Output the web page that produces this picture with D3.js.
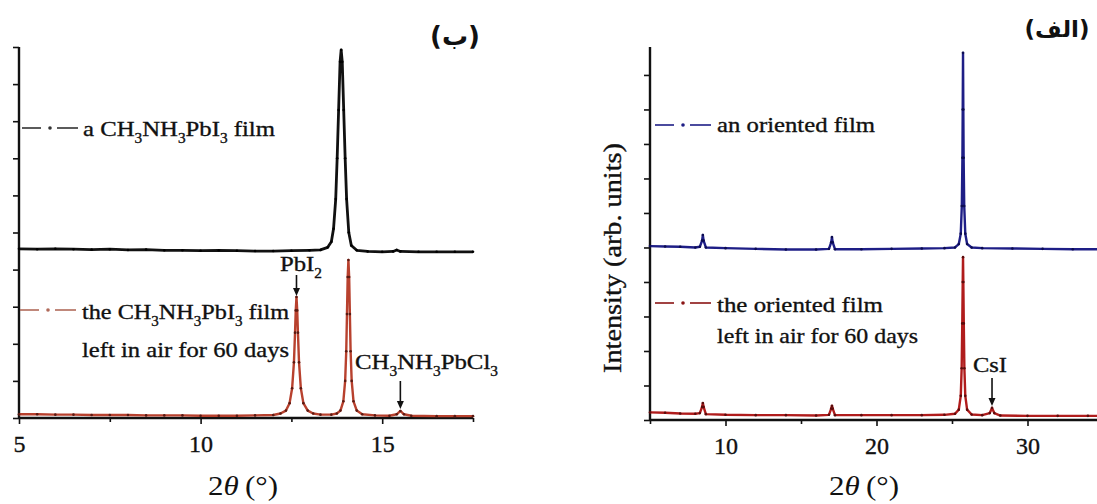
<!DOCTYPE html>
<html>
<head>
<meta charset="utf-8">
<script src="https://cdn.jsdelivr.net/npm/d3@7"></script>
<style>
  html, body { margin: 0; padding: 0; background: #fff; }
  svg { display: block; }
  text { font-family: "Liberation Serif", "Times New Roman", serif; fill: #111; }
  text.lbl { stroke: #111; stroke-width: 0.35px; }
</style>
</head>
<body>
<svg id="fig" width="1097" height="504"></svg>
<script>
// ---- Panel (ب): CH3NH3PbI3 film, fresh vs. 60 days in air ----
const freshFilm = [
  [5.0,4.56],[5.5,4.55],[6.0,4.56],[6.5,4.55],[7.0,4.54],[7.5,4.55],[8.0,4.53],[8.5,4.54],
  [9.0,4.52],[9.5,4.52],[10.0,4.51],[10.5,4.52],[11.0,4.51],[11.5,4.50],[12.0,4.50],[12.5,4.51],
  [13.0,4.52],[13.3,4.53],[13.5,4.60],[13.6,4.75],[13.66,5.1],[13.72,5.9],[13.76,7.0],[13.8,8.3],
  [13.84,9.6],[13.87,9.92],[13.9,9.6],[13.94,8.3],[13.98,7.0],[14.02,5.9],[14.08,5.0],[14.15,4.65],
  [14.3,4.52],[14.6,4.49],[15.0,4.48],[15.3,4.49],[15.4,4.53],[15.5,4.49],[16.0,4.48],[16.5,4.48],
  [17.0,4.48],[17.5,4.48]
];
const agedFilm = [
  [5.0,0.10],[5.5,0.10],[6.0,0.09],[6.5,0.09],[7.0,0.08],[7.5,0.08],[8.0,0.08],[8.5,0.07],
  [9.0,0.07],[9.5,0.07],[10.0,0.06],[10.5,0.06],[11.0,0.06],[11.5,0.07],[12.0,0.08],[12.2,0.12],
  [12.35,0.2],[12.45,0.4],[12.52,0.8],[12.57,1.5],[12.6,2.3],[12.62,2.9],[12.64,3.26],[12.66,2.9],
  [12.68,2.3],[12.71,1.5],[12.76,0.8],[12.83,0.4],[12.95,0.2],[13.1,0.12],[13.3,0.09],[13.6,0.09],
  [13.75,0.12],[13.85,0.2],[13.93,0.45],[13.98,1.0],[14.01,1.8],[14.03,2.8],[14.05,3.8],[14.07,4.26],
  [14.09,3.8],[14.11,2.8],[14.13,1.8],[14.16,1.0],[14.21,0.45],[14.3,0.2],[14.45,0.1],[14.8,0.07],
  [15.2,0.06],[15.4,0.1],[15.5,0.19],[15.6,0.1],[15.8,0.06],[16.5,0.05],[17.0,0.05],[17.5,0.05]
];
const leftXTicks = [5, 10, 15];
const leftXMinor = [7.5, 12.5, 17.5];
const leftYTicks = [0,1,2,3,4,5,6,7,8,9,10];

// ---- Panel (الف): oriented film, fresh vs. 60 days in air ----
const orientedFilm = [
  [5.0,5.04],[6.0,5.03],[7.0,5.02],[8.0,5.0],[8.3,5.02],[8.45,5.2],[8.5,5.36],[8.55,5.2],[8.7,5.0],
  [10.0,4.98],[12.0,4.96],[14.0,4.94],[16.0,4.94],[16.85,4.96],[17.0,5.15],[17.05,5.3],[17.1,5.15],
  [17.25,4.95],[19.0,4.95],[21.0,4.96],[23.0,4.97],[24.5,4.98],[25.2,5.0],[25.45,5.1],[25.58,5.4],
  [25.65,6.2],[25.69,7.6],[25.71,9.0],[25.73,10.64],[25.75,9.0],[25.77,7.6],[25.81,6.2],[25.88,5.4],
  [26.0,5.1],[26.3,5.0],[27.0,4.98],[29.0,4.97],[31.0,4.96],[33.0,4.95],[35.0,4.95]
];
const orientedAged = [
  [5.0,0.22],[6.0,0.21],[7.0,0.19],[8.0,0.18],[8.3,0.2],[8.45,0.38],[8.5,0.49],[8.55,0.38],[8.7,0.17],
  [10.0,0.15],[12.0,0.14],[14.0,0.14],[16.0,0.13],[16.85,0.15],[17.0,0.33],[17.05,0.41],[17.1,0.33],
  [17.25,0.14],[19.0,0.14],[21.0,0.14],[23.0,0.14],[24.5,0.15],[25.2,0.18],[25.45,0.3],[25.58,0.7],
  [25.64,1.5],[25.68,2.8],[25.71,4.0],[25.73,4.72],[25.75,4.0],[25.78,2.8],[25.82,1.5],[25.88,0.7],
  [26.0,0.3],[26.3,0.16],[27.0,0.14],[27.5,0.2],[27.65,0.35],[27.8,0.2],[28.2,0.13],[30.0,0.12],
  [32.0,0.12],[34.0,0.12],[35.0,0.12]
];
const rightXTicks = [10, 20, 30];
const rightXMinor = [5, 15, 25, 35];
const rightYTicks = [0,1,2,3,4,5,6,7,8,9,10];

const svg = d3.select("#fig");
const LABEL = 22;
const SERIF = '"Liberation Serif", "Times New Roman", serif';

// label with chemical subscripts: parts are [text, isSubscript]; width fixes the drawn length
function chemText(g, x, y, parts, size, width) {
  const t = g.append("text").attr("class", "lbl").attr("x", x).attr("y", y).attr("font-size", size);
  const shift = size * 0.3;
  let offset = 0;
  parts.forEach(([s, sub]) => {
    const target = sub ? shift : 0;
    t.append("tspan")
      .attr("font-size", sub ? size * 0.62 : size)
      .attr("dy", target - offset)
      .text(s);
    offset = target;
  });
  if (width) t.attr("textLength", width).attr("lengthAdjust", "spacingAndGlyphs");
  return t;
}

function legendSymbol(g, x, y, color) {
  g.append("line").attr("x1", x).attr("x2", x + 19).attr("y1", y).attr("y2", y)
    .attr("stroke", color).attr("stroke-width", 1.6);
  g.append("circle").attr("cx", x + 28).attr("cy", y).attr("r", 1.8).attr("fill", color);
  g.append("line").attr("x1", x + 35).attr("x2", x + 56).attr("y1", y).attr("y2", y)
    .attr("stroke", color).attr("stroke-width", 1.6);
}

function arrow(g, x, y1, y2) {
  g.append("line").attr("x1", x).attr("x2", x).attr("y1", y1).attr("y2", y2 - 6)
    .attr("stroke", "#111").attr("stroke-width", 1.6);
  g.append("path")
    .attr("d", `M${x - 3.5},${y2 - 8} L${x + 3.5},${y2 - 8} L${x},${y2} Z`)
    .attr("fill", "#111");
}

function drawSeries(g, data, x, y, color, dotColor, width) {
  const line = d3.line().x(d => x(d[0])).y(d => y(d[1]));
  g.append("path").datum(data).attr("d", line)
    .attr("fill", "none").attr("stroke", color).attr("stroke-width", width)
    .attr("stroke-linejoin", "round");
  g.selectAll(null).data(data).enter().append("circle")
    .attr("cx", d => x(d[0])).attr("cy", d => y(d[1])).attr("r", 1.3)
    .attr("fill", dotColor);
}

function drawAxes(g, x, y, xTicks, xMinor, yTicks, fontSize) {
  const [y0] = y.range();
  const [x0] = x.range();
  const xAxis = d3.axisBottom(x).tickValues(xTicks).tickSize(6).tickPadding(11)
    .tickFormat(d3.format("d"));
  const xa = g.append("g").attr("transform", `translate(0,${y0})`).call(xAxis);
  xa.attr("font-family", null).attr("font-size", null);
  xa.select(".domain").remove();
  xa.selectAll(".tick line").attr("stroke", "#111").attr("stroke-width", 1.6);
  xa.selectAll(".tick text").attr("class", "lbl").attr("fill", "#111")
    .style("font-family", SERIF).style("font-size", fontSize + "px");
  const xm = g.append("g").attr("transform", `translate(0,${y0})`)
    .call(d3.axisBottom(x).tickValues(xMinor).tickSize(4).tickFormat(""));
  xm.select(".domain").remove();
  xm.selectAll(".tick line").attr("stroke", "#111").attr("stroke-width", 1.6);

  const ya = g.append("g").attr("transform", `translate(${x0},0)`)
    .call(d3.axisLeft(y).tickValues(yTicks).tickSize(6).tickFormat(""));
  ya.select(".domain").remove();
  ya.selectAll(".tick line").attr("stroke", "#111").attr("stroke-width", 1.6);

  // axis frame lines (bottom and left)
  g.append("line").attr("x1", x0).attr("x2", x.range()[1]).attr("y1", y0).attr("y2", y0)
    .attr("stroke", "#111").attr("stroke-width", 2.4);
  g.append("line").attr("x1", x0).attr("x2", x0).attr("y1", y0).attr("y2", y.range()[1])
    .attr("stroke", "#111").attr("stroke-width", 2.4);
}

function axisTitle(g, cx, y) {
  const t = g.append("text").attr("x", cx - 35).attr("y", y)
    .attr("font-size", 27).attr("textLength", 70).attr("lengthAdjust", "spacingAndGlyphs");
  t.append("tspan").text("2");
  t.append("tspan").attr("font-style", "italic").text("θ");
  t.append("tspan").text("\u2009(°)");
}

// ---------- Panel (ب) ----------
{
  const g = svg.append("g");
  const x = d3.scaleLinear().domain([5, 17.5]).range([19, 473]);
  const y = d3.scaleLinear().domain([0, 10]).range([418, 47]);
  drawAxes(g, x, y, leftXTicks, leftXMinor, leftYTicks, 24);

  drawSeries(g, freshFilm, x, y, "#111", "#000", 2.8);
  drawSeries(g, agedFilm, x, y, "#b8412e", "#5a1a12", 2.4);

  legendSymbol(g, 22, 128, "#333");
  chemText(g, 83, 136, [["a CH",0],["3",1],["NH",0],["3",1],["PbI",0],["3",1],[" film",0]], LABEL, 192);

  legendSymbol(g, 20, 310, "#b06a5a");
  chemText(g, 82, 319, [["the CH",0],["3",1],["NH",0],["3",1],["PbI",0],["3",1],[" film",0]], LABEL, 207);
  chemText(g, 82, 357, [["left in air for 60 days",0]], LABEL, 207);

  chemText(g, 280, 271, [["PbI",0],["2",1]], LABEL, 42);
  arrow(g, x(12.64), 275, 296);
  chemText(g, 355, 369, [["CH",0],["3",1],["NH",0],["3",1],["PbCl",0],["3",1]], LABEL, 143);
  arrow(g, x(15.5), 381, 409);

  axisTitle(g, 243, 495);

  g.append("text").attr("x", 455).attr("y", 45).attr("text-anchor", "middle")
    .style("font-family", "DejaVu Sans, sans-serif").attr("font-weight", "bold")
    .attr("font-size", 26).text("(ب)");
}

// ---------- Panel (الف) ----------
{
  const g = svg.append("g");
  const x = d3.scaleLinear().domain([5, 40]).range([650, 1178.5]);
  const y = d3.scaleLinear().domain([0, 10.81]).range([420, 47]);
  drawAxes(g, x, y, rightXTicks, rightXMinor, rightYTicks, 24);

  drawSeries(g, orientedFilm, x, y, "#1e1e86", "#0c0c50", 2.4);
  drawSeries(g, orientedAged, x, y, "#b01c1c", "#5a0c0c", 2.4);

  legendSymbol(g, 655, 125, "#1e1e86");
  chemText(g, 717, 132, [["an oriented film",0]], LABEL, 158);

  legendSymbol(g, 655, 303, "#8a1414");
  chemText(g, 717, 312, [["the oriented film",0]], LABEL, 166);
  chemText(g, 717, 343, [["left in air for 60 days",0]], LABEL, 201);

  chemText(g, 973, 372, [["CsI",0]], LABEL, 34);
  arrow(g, x(27.65), 378, 406);

  g.append("text").attr("class", "lbl").attr("transform", "translate(621,258) rotate(-90)")
    .attr("text-anchor", "middle").attr("font-size", 25)
    .attr("textLength", 230).attr("lengthAdjust", "spacingAndGlyphs")
    .text("Intensity (arb. units)");

  axisTitle(g, 864, 495);

  g.append("text").attr("x", 1057).attr("y", 37).attr("text-anchor", "middle")
    .style("font-family", "DejaVu Sans, sans-serif").attr("font-weight", "bold")
    .attr("font-size", 23).text("(الف)");
}
</script>
</body>
</html>
